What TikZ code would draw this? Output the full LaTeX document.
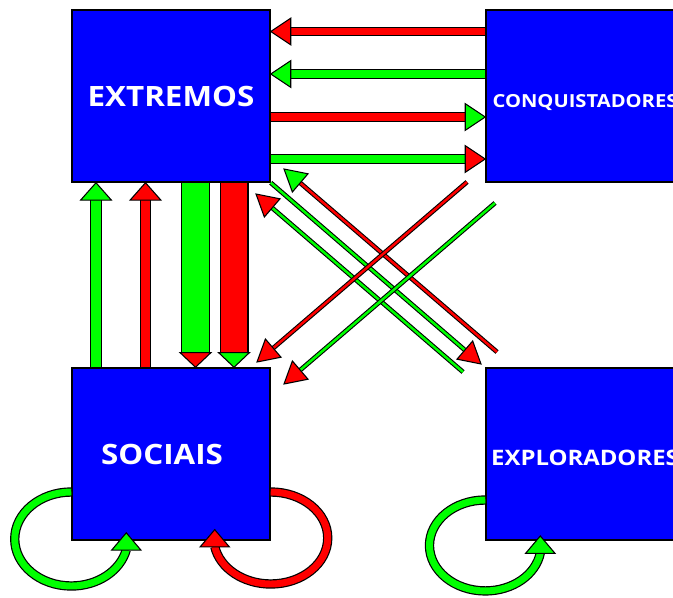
\documentclass[tikz,border=0pt]{standalone}
\usepackage{fontspec}
\newfontfamily\boxfont{Open Sans}[FakeStretch=1.12]
\usetikzlibrary{calc}
\definecolor{boxblue}{RGB}{0,0,255}
\definecolor{arrgreen}{RGB}{0,255,0}
\definecolor{arrred}{RGB}{255,0,0}
\tikzset{box/.style={draw=black, line width=1.1pt, fill=boxblue, minimum width=148.5pt, minimum height=129pt, inner sep=0pt, text=white}}
% tip: apex, point behind, fill, length, half width
\newcommand{\arrtip}[5]{%
	\path ($(#1)!#4!(#2)$) coordinate (at-b);
	\filldraw[fill=#3, draw=black, line width=0.8pt] (#1) -- ($(at-b)!#5!90:(#1)$) -- ($(at-b)!#5!-90:(#1)$) -- cycle;}
% arrow: start, apex, shaft colour, tip colour, shaft width, tip length, tip half width
\newcommand{\fatarrow}[7]{%
	\path ($(#2)!#6!(#1)$) coordinate (fa-b);
	\draw[black, line width=#5] (#1) -- (fa-b);
	\draw[#3, line width=#5-1.6pt] (#1) -- (fa-b);
	\arrtip{#2}{#1}{#4}{#6}{#7}}
\newcommand{\harrow}[4]{\fatarrow{#1}{#2}{#3}{#4}{7pt}{15pt}{10pt}}
\newcommand{\varrow}[4]{\fatarrow{#1}{#2}{#3}{#4}{8.75pt}{13pt}{11.5pt}}
\newcommand{\barrow}[4]{\fatarrow{#1}{#2}{#3}{#4}{21.75pt}{11pt}{11.6pt}}
\newcommand{\darrow}[4]{\fatarrow{#1}{#2}{#3}{#4}{3.5pt}{16pt}{9pt}}
% loop: start, arc options, colour
\newcommand{\selfloop}[3]{%
	\draw[black, line width=7pt] (#1) arc[#2] coordinate (lp-e);
	\draw[#3, line width=5.2pt] (#1) arc[#2];
	\coordinate (lp-t) at ($(lp-e)+(0,-17)$);
	\arrtip{lp-t}{lp-e}{#3}{13pt}{11pt}}
\begin{document}
\begin{tikzpicture}[x=0.75pt, y=-0.75pt]
	\useasboundingbox (0,0) rectangle (673,598);
	\node[box, font=\boxfont\bfseries\fontsize{21}{21}\selectfont] (ext) at (171,96) {EXTREMOS};
	\node[box, text height=17pt, text depth=0pt, font=\boxfont\bfseries\fontsize{13.5}{13.5}\selectfont] (conq) at (585,96) {CONQUISTADORES};
	\node[box, font=\boxfont\bfseries\fontsize{21}{21}\selectfont] (soc) at (171,454) {\hspace*{-13.5pt}SOCIAIS};
	\node[box, text height=17.4pt, text depth=0pt, font=\boxfont\bfseries\fontsize{16}{16}\selectfont] (expl) at (585,454) {EXPLORADORES};
	% loops
	\selfloop{soc.west |- 0,492}{start angle=90, end angle=346.7, x radius=42.4pt, y radius=35.25pt}{arrgreen}
	\selfloop{soc.east |- 0,492}{start angle=90, end angle=-169.2, x radius=42.75pt, y radius=34.5pt}{arrred}
	\selfloop{expl.west |- 0,500}{start angle=90, end angle=350.5, x radius=41.85pt, y radius=34.1pt}{arrgreen}
	% extremos <-> conquistadores
	\harrow{conq.west |- 0,31.5}{ext.east |- 0,31.5}{arrred}{arrred}
	\harrow{conq.west |- 0,74}{ext.east |- 0,74}{arrgreen}{arrgreen}
	\harrow{ext.east |- 0,117}{conq.west |- 0,117}{arrred}{arrgreen}
	\harrow{ext.east |- 0,159}{conq.west |- 0,159}{arrgreen}{arrred}
	% extremos <-> sociais
	\varrow{soc.north -| 96,0}{ext.south -| 96,0}{arrgreen}{arrgreen}
	\varrow{soc.north -| 145.5,0}{ext.south -| 145.5,0}{arrred}{arrred}
	\barrow{ext.south -| 195.5,0}{soc.north -| 195.5,0}{arrgreen}{arrred}
	\barrow{ext.south -| 234,0}{soc.north -| 234,0}{arrred}{arrgreen}
	% diagonals
	\coordinate (cs1) at (467,182); \coordinate (cs1t) at (257,362);
	\coordinate (cs2) at (495,203); \coordinate (cs2t) at (284,384);
	\coordinate (xe1) at (497,352); \coordinate (xe1t) at (284,169);
	\coordinate (xe2) at (463,372); \coordinate (xe2t) at (256,194);
	\coordinate (ex1t) at (481,364);
	\darrow{xe2}{xe2t}{arrgreen}{arrred}
	\darrow{ext.south east}{ex1t}{arrgreen}{arrred}
	\darrow{xe1}{xe1t}{arrred}{arrgreen}
	\darrow{cs1}{cs1t}{arrred}{arrred}
	\darrow{cs2}{cs2t}{arrgreen}{arrred}
\end{tikzpicture}
\end{document}
